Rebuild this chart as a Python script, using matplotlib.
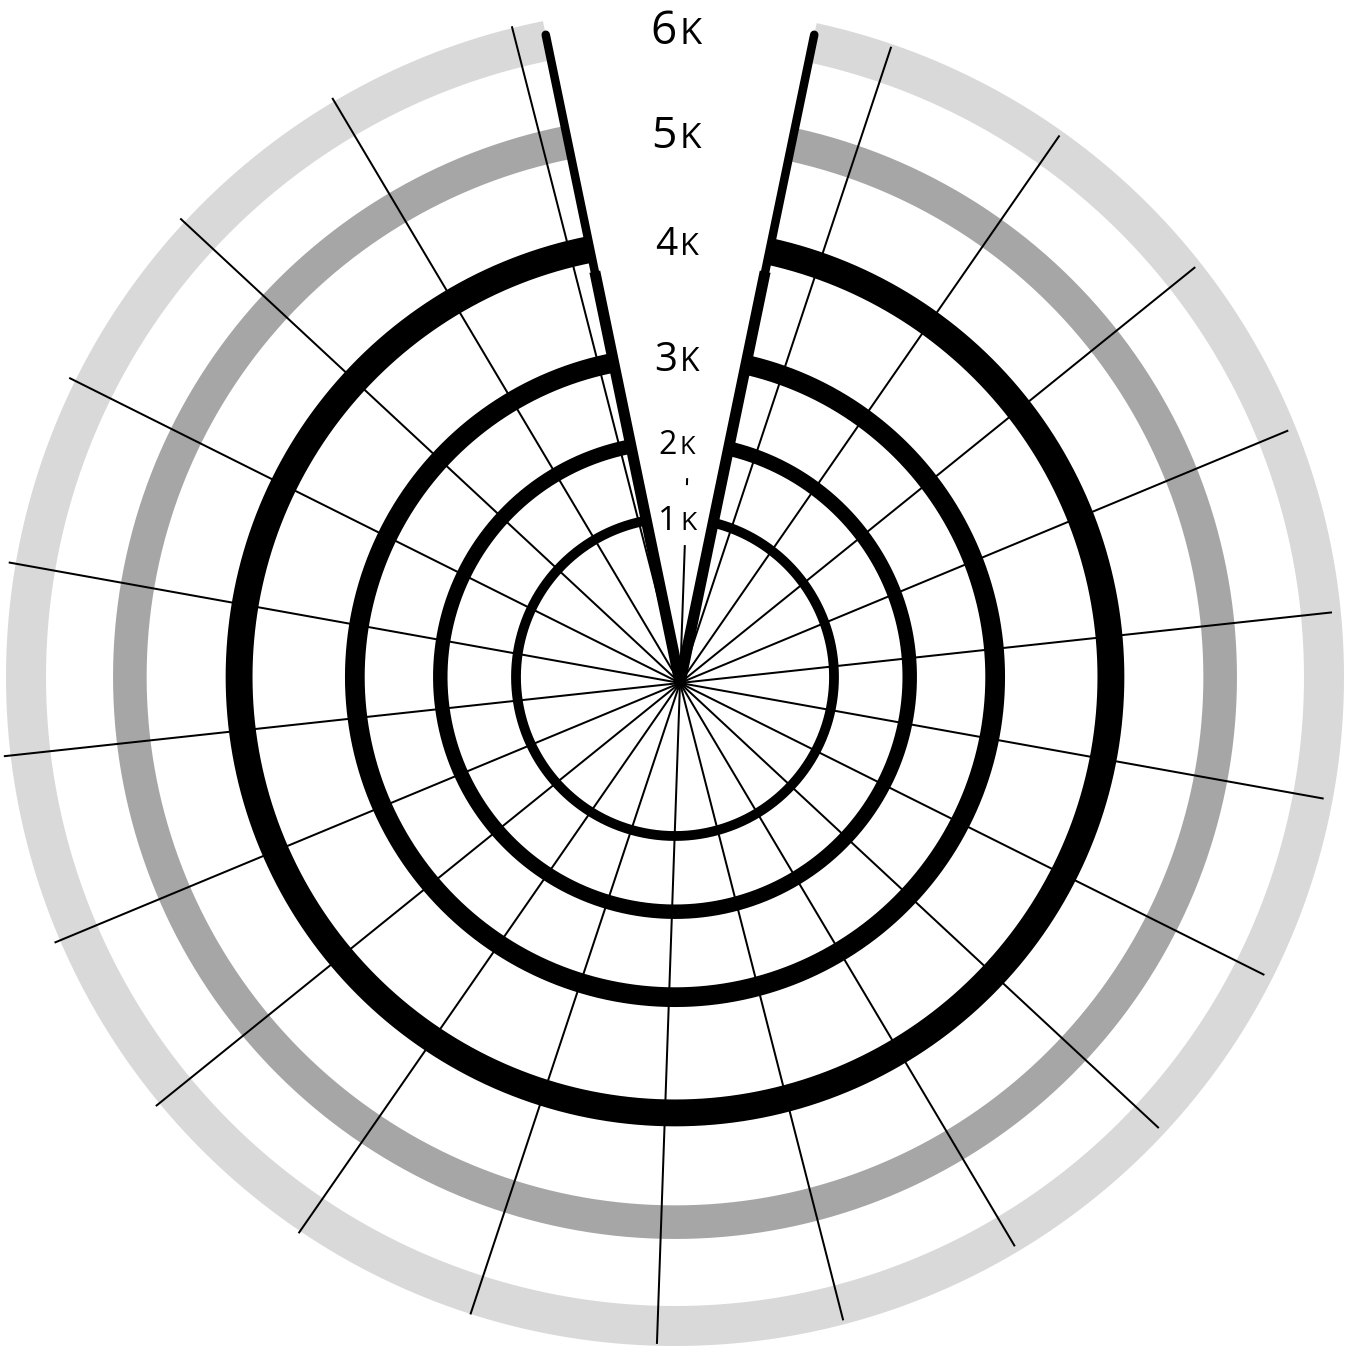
import numpy as np
import matplotlib
matplotlib.use("Agg")
import matplotlib.pyplot as plt
from matplotlib.patches import Wedge
from matplotlib.transforms import offset_copy

plt.rcParams["lines.scale_dashes"] = False

# ---------------- data ----------------
ring_values = [1470, 2170, 2960, 4030, 5040, 6000]
ring_labels = ["1K", "2K", "3K", "4K", "5K", "6K"]
categories = [f"cat{i + 1}" for i in range(22)]

# ---------------- styles ----------------
ring_colors = ["#000000", "#000000", "#000000", "#000000", "#a6a6a6", "#d9d9d9"]
label_sizes = [24, 23, 29, 28, 32, 33]
UNIT_SCALE = 0.79          # the "K" is set smaller (small-cap look)
FONT = ["Open Sans", "DejaVu Sans"]

# ---------------- layout ----------------
W, H, DPI = 1357, 1348, 100
SPOKE_C = (680, 683)      # pixel centre of spokes (from top-left)
RING_C = (675, 677)       # pixel centre of rings
SPOKE_END_C = (667, 676)  # spoke ends lie on this circle
SPOKE_END_R = 668
AX_R = 700                # polar axes radius in px
PX_PER_UNIT = 649 / 6000
RMAX = AX_R / PX_PER_UNIT
GAP_HALF = 11.7           # half-width of the top gap, degrees
SPOKE_START = 2.0         # angle of first spoke, degrees
EDGE_LEN_PX = 662
WIDTH_PX_PER_UNIT = 40 / 6000
LABEL_DX = 3
px2pt = 72 / DPI

fig = plt.figure(figsize=(W / DPI, H / DPI), dpi=DPI)
fig.patch.set_facecolor("white")


def make_polar(center, z):
    cx, cy = center
    rect = [(cx - AX_R) / W, (H - cy - AX_R) / H, 2 * AX_R / W, 2 * AX_R / H]
    ax = fig.add_axes(rect, projection="polar", zorder=z)
    ax.set_theta_zero_location("N")
    ax.set_theta_direction(-1)
    ax.set_ylim(0, RMAX)
    ax.set_axis_off()
    return ax


def spoke_len_px(ang_deg):
    a = np.radians(ang_deg)
    u = np.array([np.sin(a), -np.cos(a)])
    d = np.array(SPOKE_C, float) - np.array(SPOKE_END_C, float)
    b = d @ u
    return -b + np.sqrt(b * b - d @ d + SPOKE_END_R ** 2)


ax_ring = make_polar(RING_C, 1)
ax_top = make_polar(SPOKE_C, 2)

# wedge (open at the top) used to cut the rings at the gap edges
clip = Wedge((0.5, 0.5), 0.5, 90 + GAP_HALF, 450 - GAP_HALF,
             transform=ax_top.transAxes)

theta = np.linspace(0, 2 * np.pi, 1441)
for v, c in zip(ring_values, ring_colors):
    ln, = ax_ring.plot(theta, np.full_like(theta, v), color=c,
                       lw=v * WIDTH_PX_PER_UNIT * px2pt,
                       solid_capstyle="butt")
    ln.set_clip_path(clip)

# spokes (one per category)
step = 360 / len(categories)
for i, cat in enumerate(categories):
    ang = (SPOKE_START + i * step) % 360
    th = np.radians(ang)
    in_gap = ang < GAP_HALF or ang > 360 - GAP_HALF
    if in_gap:
        # partly hidden behind the first tick labels
        ax_top.plot([th, th], [0, 205 / PX_PER_UNIT], color="black",
                    lw=2 * px2pt, clip_on=False, zorder=2,
                    dashes=(138 * px2pt, 60 * px2pt, 7 * px2pt, 500))
    else:
        L = spoke_len_px(ang) / PX_PER_UNIT
        ax_top.plot([th, th], [0, L], color="black", lw=2 * px2pt,
                    solid_capstyle="butt", clip_on=False, zorder=2)

# gap edge lines
for sgn in (-1, 1):
    th = np.radians(sgn * GAP_HALF)
    ax_top.plot([th, th], [0, EDGE_LEN_PX / PX_PER_UNIT], color="black",
                lw=8.5 * px2pt, solid_capstyle="round", zorder=4)
    ax_top.plot([th, th], [0, 420 / PX_PER_UNIT], color="black",
                lw=11 * px2pt, solid_capstyle="butt", zorder=4)

# radial labels (number + smaller unit letter)
for v, lab, s in zip(ring_values, ring_labels, label_sizes):
    num, unit = lab[:-1], lab[-1]
    digit_h = 0.714 * s / px2pt
    tr_n = offset_copy(ax_ring.transData, fig=fig, x=LABEL_DX - 1,
                       y=-digit_h / 2, units="dots")
    tr_u = offset_copy(ax_ring.transData, fig=fig, x=LABEL_DX + 2,
                       y=-digit_h / 2, units="dots")
    ax_top.text(0, v, num, transform=tr_n, ha="right", va="baseline",
                fontsize=s, family=FONT, zorder=3)
    ax_top.text(0, v, unit, transform=tr_u, ha="left", va="baseline",
                fontsize=s * UNIT_SCALE, family=FONT, zorder=3)

fig.savefig("out.png", dpi=DPI)
